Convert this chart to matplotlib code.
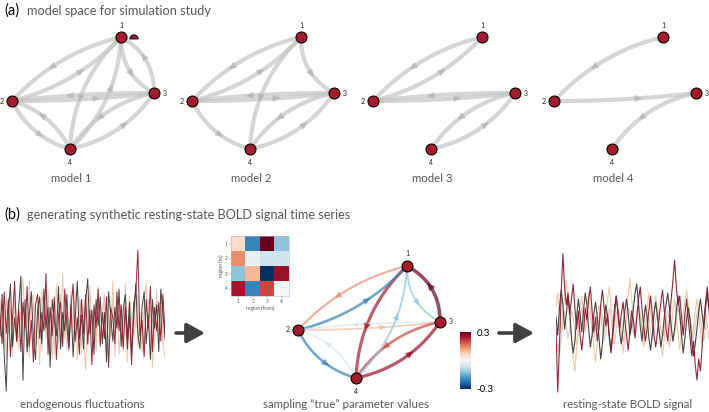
import numpy as np
import matplotlib
matplotlib.use('Agg')
import matplotlib.pyplot as plt
from matplotlib.patches import FancyArrowPatch, Wedge
from matplotlib.colors import Normalize

plt.rcParams['font.family'] = ['Lato', 'DejaVu Sans']

# ---------------- data ----------------
panel_a_title = "model space for simulation study"
panel_b_title = "generating synthetic resting-state BOLD signal time series"
model_names = ["model 1", "model 2", "model 3", "model 4"]
region_labels = ["1", "2", "3", "4"]

# directed connections (from, to) of each model
model1_edges = [(1, 2), (2, 1), (1, 3), (3, 1), (1, 4), (4, 1), (2, 3), (3, 2), (2, 4), (4, 2), (3, 4), (4, 3)]
model2_edges = [(1, 2), (2, 1), (1, 3), (1, 4), (2, 3), (3, 2), (2, 4), (3, 4), (4, 3)]
model3_edges = [(1, 2), (2, 1), (2, 3), (3, 2), (3, 4), (4, 3)]
model4_edges = [(1, 2), (2, 3), (3, 4)]
models_edges = [model1_edges, model2_edges, model3_edges, model4_edges]

# "true" parameter matrix, rows = region (to), columns = region (from)
true_params = np.array([
    [0.06, -0.20, 0.30, -0.12],
    [0.14, -0.02, -0.06, -0.06],
    [-0.12, 0.10, -0.30, 0.26],
    [0.25, -0.20, 0.20, 0.00],
])
cbar_limits = [-0.3, 0.3]

# endogenous fluctuations (4 regions)
endo_1 = [0.3, -0.8, 1.2, -0.4, 0.9, -1.3, 0.2, 1.6, -0.7, 0.5, -1.1, 0.8, -0.2, 1.4, -0.9, 0.1, -1.5, 0.7, 1.1, -0.6,
          0.4, -0.3, 1.9, -1.2, 0.6, -0.5, 1.0, -1.4, 0.3, 0.8, -0.9, 1.3, -0.1, -1.0, 0.6, 1.5, -0.7, 0.2, -1.2, 0.9,
          -0.4, 1.1, -0.8, 0.5, -1.6, 0.7, -0.2, 1.3, -0.9, 0.4, -0.6, 1.0, -1.7, 0.6, 0.2, -0.8, 1.2, -0.3, 0.7, -1.0,
          0.6, -1.0, 0.3, -1.6, 0.7, 1.2, 2.8, -0.5, 0.1, -1.3, 0.9, -0.2, 1.4, -1.1, 0.6, -0.3, 0.8, -0.7, 1.1, -0.4]
endo_2 = [-0.5, 1.1, -1.2, -2.6, 0.4, 1.5, -0.9, 0.2, -0.7, 0.7, 1.8, -2.2, 0.9, -1.1, 0.3, 1.2, -0.6, -1.4, 0.5, 1.0,
          -0.8, 1.3, -0.2, 0.6, -1.7, 0.9, 0.1, -0.5, 1.4, -1.0, 0.4, -0.3, 1.1, -0.9, 0.7, -1.3, 0.2, 1.6, -0.6, 0.3,
          -1.0, 0.8, 1.7, -0.4, 0.5, -1.2, 0.9, -0.1, 1.0, -0.8, 0.4, -1.5, 1.2, 0.3, -0.7, 0.6, -0.2, 1.3, -0.9, 0.5,
          1.1, -0.6, 0.8, -1.2, 0.2, 1.5, -0.4, -1.0, 0.6, 1.2, -0.8, 0.3, -1.4, 0.9, -0.2, 0.7, -1.1, 1.3, 0.4, -0.6]
endo_3 = [0.9, -0.3, 0.5, -1.4, 1.0, 0.2, -0.8, 1.3, -0.5, -1.0, 0.6, 1.7, -0.2, 0.4, -1.3, 0.8, 1.1, -0.6, 0.2, -1.6,
          1.2, 0.5, -0.4, 1.0, -0.9, 0.3, -1.2, 1.5, 0.1, -0.7, 1.9, -0.6, 0.4, -1.1, 0.8, -0.2, 1.2, -1.4, 0.5, 0.9,
          -0.5, -1.8, 0.7, 1.1, -0.3, 0.6, -1.0, 1.4, -0.8, 0.2, 1.0, -1.3, 0.4, -0.6, 1.6, -0.4, 0.8, -1.2, 0.3, -0.9,
          0.7, -1.5, 1.0, 0.2, -0.6, 1.3, -0.9, 0.4, -1.1, 0.8, 1.5, -0.3, 0.6, -1.7, 0.2, 0.9, -0.5, 1.2, -0.8, -1.3]
endo_4 = [-0.2, 0.7, -1.0, 1.2, -0.4, 0.6, -1.3, 0.9, 0.3, -0.7, 1.1, -0.5, 0.2, -1.2, 1.6, -0.3, 0.8, -0.9, 0.4, 1.0,
          -1.1, 0.5, -0.6, 1.3, -0.2, -1.4, 0.9, 0.3, -0.8, 1.1, -0.5, 0.7, -1.0, 0.2, 1.2, -0.7, 0.4, -0.3, 1.0, -1.2,
          0.6, 0.1, -0.9, 1.4, -0.6, 0.3, -1.1, 0.8, -0.4, 0.5, 1.1, -0.8, 0.2, -0.5, 0.9, -1.3, 0.6, -0.1, 0.7, -0.6,
          1.5, -0.4, 0.3, -1.0, 0.8, -0.2, 1.1, -0.7, 0.4, -1.2, 0.6, 0.9, -0.5, 0.2, -0.9, 1.3, -0.3, 0.5, -0.8, 0.4]

# resting-state BOLD signal (4 regions)
bold_1 = [-0.2, -2.3, -0.8, 1.0, 2.3, 1.2, 0.6, 1.0, 0.3, 0.8, 1.3, 0.5, -0.2, 0.4, -0.4, -0.9, -0.3, 0.5, 0.1, 0.8,
          1.2, 0.4, -0.3, 0.2, -0.6, -0.2, 0.6, 1.1, 0.5, -0.1, 0.3, -0.5, -1.0, -0.4, 0.2, 0.9, 0.4, -0.2, 0.3, 0.7,
          0.1, -0.4, -0.9, -0.3, 0.4, 0.1, -0.5, 0.2, 0.8, 1.2, 0.5, -0.1, -0.6, -0.2, 0.4, 0.9, 0.3, -0.4, -0.8, -0.3,
          0.2, 0.7, 1.1, 0.4, -0.2, -0.6, 0.1, 0.8, 1.4, 2.1, 1.2, 0.6, 0.9, 0.2, -0.4, 0.3, 0.8, 0.1, -0.5, -1.1,
          -0.6, -1.4, -1.9, -1.2, -1.6, -0.8, 0.1, 0.7, 1.2, 0.5]
bold_2 = [0.2, -0.4, 0.5, 1.1, 0.6, -0.2, 0.3, 0.9, 0.4, -0.5, -1.0, -0.6, 0.2, 0.8, 0.3, -0.3, 0.4, 1.0, 0.6, -0.2,
          -0.8, -0.4, 0.3, 0.7, 0.2, -0.5, -1.2, -0.7, 0.1, 0.6, 0.2, -0.4, -0.9, -0.3, 0.5, 0.9, 0.4, -0.3, -0.7, -0.2,
          0.4, 0.8, 0.3, -0.4, -0.1, 0.5, 1.0, 1.3, 0.6, -0.1, -0.6, 0.0, 0.6, 0.2, -0.5, -0.9, -0.4, 0.3, 0.7, 0.2,
          -0.3, -0.8, -0.4, 0.2, 0.6, 1.0, 0.5, -0.1, -0.6, -0.2, 0.4, 0.9, 0.3, -0.4, -1.0, -0.5, 0.1, 0.5, 0.1, -0.6,
          -1.1, -0.7, -0.2, 0.4, 0.8, 0.3, -0.2, 0.5, 1.0, 0.4]
bold_3 = [0.5, 1.0, 0.4, -0.3, 0.3, 0.9, 1.4, 0.7, 0.1, -0.5, -1.2, -1.6, -0.8, -0.1, 0.5, 0.9, 0.3, -0.3, 0.4, 1.0,
          0.5, -0.2, -0.8, -1.3, -0.6, 0.1, 0.6, 0.2, -0.4, 0.3, 0.8, 1.2, 0.5, -0.1, -0.7, -0.2, 0.5, 0.2, -0.5, -1.0,
          -0.4, 0.3, 0.9, 1.5, 0.8, 0.2, -0.4, 0.1, 0.7, 0.3, -0.3, -0.8, -0.3, 0.5, 1.0, 0.4, -0.2, 0.3, 0.9, 0.5,
          -0.1, -0.6, -1.1, -0.5, 0.2, -0.2, -0.8, -0.3, 0.4, 0.8, 0.2, -0.4, -0.9, -0.3, 0.3, 0.7, 1.1, 0.6, 0.0, -0.5,
          -0.2, 0.4, 0.8, 0.3, -0.3, -0.7, -0.2, 0.3, -0.1, -0.5]
bold_4 = [-0.2, -0.7, -1.1, -0.6, 0.0, 0.4, -0.1, -0.5, -0.2, 0.4, 0.2, -0.3, -0.7, -0.4, 0.1, 0.5, 0.2, -0.2, 0.0, 0.4,
          0.2, -0.2, -0.5, -0.2, 0.3, 0.6, 0.3, -0.2, -0.6, -0.3, 0.1, 0.5, 0.2, -0.3, -0.1, 0.3, 0.5, 0.1, -0.3, -0.6,
          -0.3, 0.1, 0.5, 0.3, 0.0, -0.4, -0.1, 0.3, 0.6, 0.3, -0.1, -0.5, -0.2, 0.2, 0.1, -0.3, -0.6, -0.3, 0.1, 0.4,
          0.2, -0.2, -0.5, -0.2, 0.2, 0.4, 0.1, -0.3, -0.6, -0.3, 0.1, 0.5, 0.3, -0.1, -0.4, 0.0, 0.3, 0.6, 0.2, -0.2,
          -0.5, -0.1, 0.3, 0.5, 0.1, -0.3, -0.6, -0.2, 0.2, 0.4]

# ---------------- layout / style ----------------
W, H = 709, 412
node_dx = np.array([109, 0, 142, 58])      # node layout relative to region 2
node_dy = np.array([-64, 0, -8, 48])
model_x0 = [12, 192, 373, 554]
model_y0 = 101
net_b_x0, net_b_y0 = 298, 330
pair_rad = {frozenset((1, 2)): 0.15, frozenset((1, 3)): 0.30, frozenset((1, 4)): 0.20,
            frozenset((2, 3)): 0.03, frozenset((2, 4)): 0.22, frozenset((3, 4)): 0.20}
node_fc = '#a51d2d'
label_off = {1: (0, -12), 2: (-10, 0), 3: (11, 0), 4: (0, 13)}
text_gray = '#595959'

fig = plt.figure(figsize=(W / 100, H / 100), dpi=100)
ax = fig.add_axes([0, 0, 1, 1])
ax.set_xlim(0, W)
ax.set_ylim(H, 0)
ax.axis('off')


def curve(pa, pb, rad, n=80):
    pa, pb = np.asarray(pa, float), np.asarray(pb, float)
    d = pb - pa
    L = np.hypot(*d)
    perp = np.array([-d[1], d[0]]) / L
    c = (pa + pb) / 2 + perp * rad * L
    t = np.linspace(0, 1, n)[:, None]
    return (1 - t) ** 2 * pa + 2 * (1 - t) * t * c + t ** 2 * pb


def draw_edge(pa, pb, rad, color, lw, alpha, head_color, ms):
    pts = curve(pa, pb, rad)
    ax.plot(pts[:, 0], pts[:, 1], color=color, lw=lw, alpha=alpha, solid_capstyle='round', zorder=2)
    i0, i1 = 44, 49
    arr = FancyArrowPatch(posA=tuple(pts[i0]), posB=tuple(pts[i1]),
                          arrowstyle='-|>,head_length=0.55,head_width=0.25',
                          mutation_scale=ms, color=head_color, lw=0.3, alpha=alpha,
                          shrinkA=0, shrinkB=0, zorder=3)
    ax.add_patch(arr)


def draw_nodes(xs, ys):
    ax.scatter(xs, ys, s=62, c=node_fc, edgecolors='black', linewidths=0.8, zorder=5)
    for k in range(4):
        ox, oy = label_off[k + 1]
        ax.text(xs[k] + ox, ys[k] + oy, region_labels[k], fontsize=5, ha='center', va='center',
                color='#222222', zorder=6)


# ---- panel (a) ----
ax.text(4, 11, "(a)", fontsize=10.5, ha='left', va='center', color='black')
ax.text(27, 11, panel_a_title, fontsize=9.2, ha='left', va='center', color=text_gray)
for m, edges in enumerate(models_edges):
    xs = model_x0[m] + node_dx
    ys = model_y0 + node_dy
    for (a, b) in edges:
        draw_edge((xs[a - 1], ys[a - 1]), (xs[b - 1], ys[b - 1]), pair_rad[frozenset((a, b))],
                  '#c4c4c4', 3.0, 0.7, '#b0b0b0', 9)
    draw_nodes(xs, ys)
    ax.text(xs[3] + 1, 178, model_names[m], fontsize=8.2, ha='center', va='center', color=text_gray)

# small half-disc artefact next to node 1 of model 1
ax.add_patch(Wedge((model_x0[0] + node_dx[0] + 13, model_y0 + node_dy[0] + 2), 4.2, 180, 360,
                   facecolor=node_fc, edgecolor='black', lw=0.6, zorder=5))

# ---- panel (b) ----
ax.text(4, 215, "(b)", fontsize=10.5, ha='left', va='center', color='black')
ax.text(27, 215, panel_b_title, fontsize=9.2, ha='left', va='center', color=text_gray)

cmap = plt.get_cmap('RdBu_r')
norm = Normalize(vmin=cbar_limits[0], vmax=cbar_limits[1])
bx = net_b_x0 + node_dx
by = net_b_y0 + node_dy
for j in range(4):          # from
    for i in range(4):      # to
        if i == j:
            continue
        v = true_params[i, j]
        col = cmap(norm(v))
        draw_edge((bx[j], by[j]), (bx[i], by[i]), pair_rad[frozenset((i + 1, j + 1))],
                  col, 0.6 + 6.5 * abs(v), 0.7, col, 7 + 8 * abs(v))
draw_nodes(bx, by)

# big arrows
for x0, x1 in [(176, 205), (499, 534)]:
    ax.add_patch(FancyArrowPatch(posA=(x0, 333), posB=(x1, 333),
                                 arrowstyle='-|>,head_length=0.55,head_width=0.3',
                                 mutation_scale=20, color='#404040', lw=2.6, shrinkA=0, shrinkB=0))

# bottom labels
ax.text(82, 405, "endogenous fluctuations", fontsize=8.3, ha='center', va='center', color=text_gray)
ax.text(346, 405, "sampling \u201ctrue\u201d parameter values", fontsize=8.3, ha='center', va='center', color=text_gray)
ax.text(628, 405, "resting-state BOLD signal", fontsize=8.3, ha='center', va='center', color=text_gray)

# heatmap inset
hx0, hy0, hw, hh = 231, 236, 58, 60
hax = fig.add_axes([hx0 / W, 1 - (hy0 + hh) / H, hw / W, hh / H])
hax.imshow(true_params, cmap=cmap, norm=norm, aspect='auto')
hax.set_xticks(range(4))
hax.set_yticks(range(4))
hax.set_xticklabels(region_labels, fontsize=3.5)
hax.set_yticklabels(region_labels, fontsize=3.5)
hax.tick_params(length=1.2, width=0.3, pad=1, colors='#555555')
hax.set_xlabel("region (from)", fontsize=3.5, labelpad=1, color='#555555')
hax.set_ylabel("region (to)", fontsize=3.5, labelpad=1, color='#555555')
for s in hax.spines.values():
    s.set_color('#bbbbbb')
    s.set_linewidth(0.4)

# colorbar
cx0, cy0, cw, ch = 460, 332, 11, 57
cax = fig.add_axes([cx0 / W, 1 - (cy0 + ch) / H, cw / W, ch / H])
sm = plt.cm.ScalarMappable(norm=norm, cmap=cmap)
cb = fig.colorbar(sm, cax=cax, ticks=cbar_limits)
cb.outline.set_visible(False)
cb.ax.tick_params(length=0, labelsize=7, pad=4)
cb.ax.set_yticklabels(["-0.3", "0.3"])

# time series
ts_colors = ['#dcc8c8', '#f6c49c', '#3a3a3a', '#8e1b2f']
lax = fig.add_axes([0, 1 - 396 / H, 165 / W, 146 / H])
for s, c in zip([endo_4, endo_3, endo_2, endo_1], ts_colors):
    lax.plot(np.arange(len(s)), s, color=c, lw=0.7, alpha=0.95)
lax.set_xlim(0, len(endo_1) - 1)
lax.set_ylim(-2.8, 2.8)
lax.axis('off')

rax = fig.add_axes([556 / W, 1 - 398 / H, 153 / W, 150 / H])
for s, c in zip([bold_4, bold_3, bold_2, bold_1], ts_colors):
    rax.plot(np.arange(len(s)), s, color=c, lw=0.8, alpha=0.95)
rax.set_xlim(0, len(bold_1) - 1)
rax.set_ylim(-2.5, 2.5)
rax.axis('off')

fig.savefig('out.png', dpi=100)
